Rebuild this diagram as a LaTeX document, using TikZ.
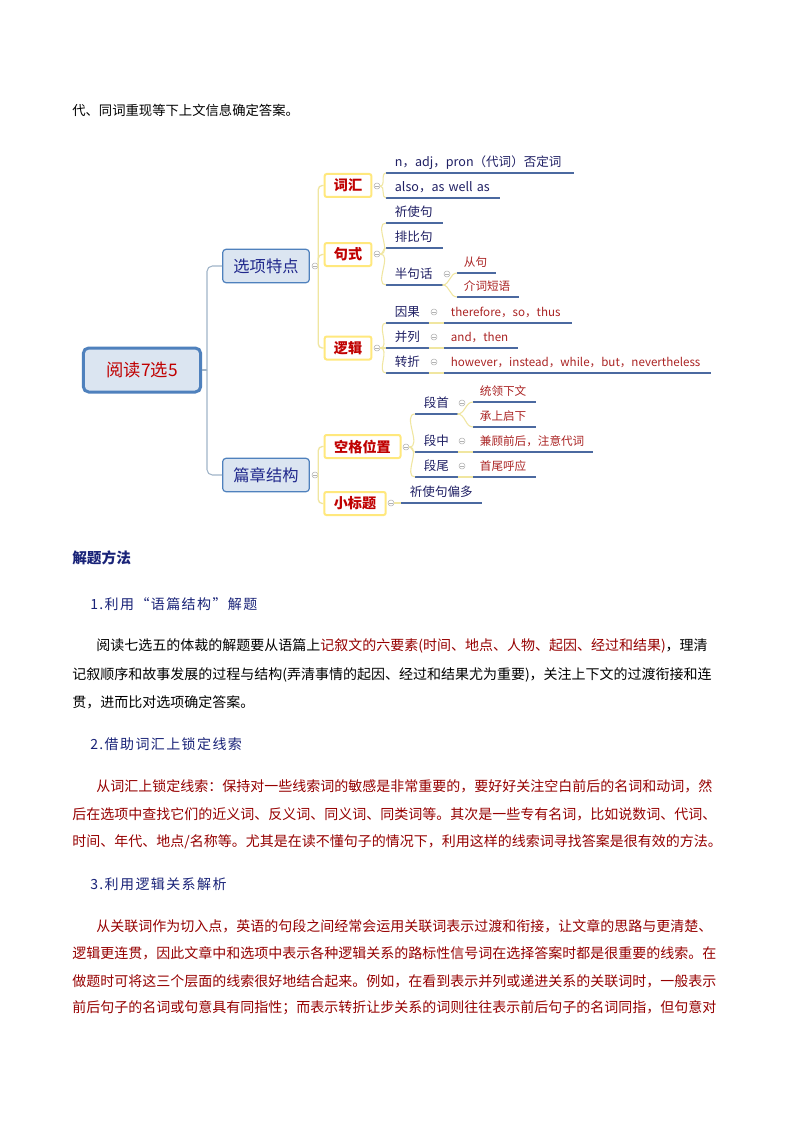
\documentclass[tikz,border=0pt]{standalone}
\usepackage{fontspec}
\setmainfont{Noto Sans CJK SC}
\usetikzlibrary{calc}
\definecolor{rootfill}{RGB}{219,229,241}
\definecolor{rootline}{RGB}{79,129,189}
\definecolor{rootred}{RGB}{192,0,0}
\definecolor{lonetext}{RGB}{32,40,140}
\definecolor{ltwoline}{RGB}{255,232,125}
\definecolor{ltwored}{RGB}{192,0,0}
\definecolor{leafblue}{RGB}{32,32,100}
\definecolor{leafred}{RGB}{170,35,35}
\definecolor{ulcol}{RGB}{75,105,160}
\definecolor{cgrey}{RGB}{160,180,200}
\definecolor{cyellow}{RGB}{240,230,160}
\definecolor{headblue}{RGB}{25,35,120}
\definecolor{bodyred}{RGB}{150,0,0}
\tikzset{
  rootbox/.style={draw=rootline, line width=2.25pt, fill=rootfill, rounded corners=4pt,
    minimum width=88pt, minimum height=33pt, inner sep=0pt, text=rootred,
    font=\fontsize{13}{15}\selectfont},
  lonebox/.style={draw=rootline, line width=0.9pt, fill=rootfill, rounded corners=2.5pt,
    minimum width=65pt, minimum height=25pt, inner sep=0pt, text=lonetext,
    font=\fontsize{12.2}{14}\selectfont},
  ltwobox/.style={draw=ltwoline, line width=1.5pt, fill=white, rounded corners=1.5pt,
    minimum width=#1, minimum height=17.25pt, inner sep=0pt, text=ltwored,
    font=\bfseries\fontsize{10.6}{12}\selectfont},
  coll/.style={circle, draw=gray!60, fill=white, line width=0.4pt, inner sep=0pt,
    minimum size=4.5pt,
    path picture={\draw[gray!60, line width=0.4pt]
      ($(path picture bounding box.west)+(1.1pt,0)$) --
      ($(path picture bounding box.east)+(-1.1pt,0)$);}},
  leafb/.style={anchor=south west, inner xsep=0pt, inner ysep=5pt, text depth=0pt,
    text width=#1, align=left, text=leafblue, font=\fontsize{9.4}{11}\selectfont,
    execute at begin node=\hspace*{6.5pt}},
  leafr/.style={anchor=south west, inner xsep=0pt, inner ysep=5pt, text depth=0pt,
    text width=#1, align=left, text=leafred, font=\fontsize{8.7}{10}\selectfont,
    execute at begin node=\hspace*{5pt}},
  ul/.style={draw=ulcol, line width=1.5pt},
  czero/.style={draw=cgrey, line width=0.8pt, rounded corners=4pt},
  cone/.style={draw=cyellow, line width=1pt, rounded corners=3pt},
  ctwo/.style={draw=cyellow, line width=0.8pt},
  head/.style={anchor=west, inner sep=0pt, text=headblue,
    font=\fontsize{10.5}{13}\selectfont\addfontfeature{LetterSpace=10}},
  bodyl/.style={anchor=west, inner sep=0pt, text width=487.5pt, align=justify,
    font=\fontsize{10.5}{13}\selectfont,
    execute at begin node={\XeTeXlinebreaklocale "zh"\XeTeXlinebreakskip=0pt plus 2pt minus 0.2pt\relax}},
}
\newcommand\fullline{\parfillskip=0pt\relax}
\begin{document}
\begin{tikzpicture}[x=0.75pt, y=-0.75pt]
\useasboundingbox (0,0) rectangle (794,1123);
\fill[white] (0,0) rectangle (794,1123);

\node[anchor=west, inner sep=0pt, font=\fontsize{10}{12}\selectfont] (top) at (72,110) {代、同词重现等下上文信息确定答案。};

% ---------- mind map ----------
\node[rootbox] (r) at (142,370) {阅读7选5};
\node[lonebox] (a) at (266,266) {选项特点};
\node[lonebox] (b) at (266,475) {篇章结构};
\coordinate (rj) at (207,370);
\draw[czero] (r.east) -- (rj);
\draw[czero] (rj) |- (a.west);
\draw[czero] (rj) |- (b.west);

\node[ltwobox=35pt] (w1) at (348,185.5) {词汇};
\node[ltwobox=35pt] (w2) at (348,254.5) {句式};
\node[ltwobox=35pt] (w3) at (348,348) {逻辑};
\node[ltwobox=57pt] (w4) at (362.5,446.5) {空格位置};
\node[ltwobox=46pt] (w5) at (355,503.5) {小标题};

\node[coll] (ca) at (315,266) {};
\node[coll] (cb) at (315,475) {};
\draw[cone] (ca.east) |- (w1.west);
\draw[cone] (ca.east) |- (w2.west);
\draw[cone] (ca.east) |- (w3.west);
\draw[cone] (cb.east) |- (w4.west);
\draw[cone] (cb.east) |- (w5.west);

% leaves
\node[leafb=140.25pt] (v1) at (386,173) {\mbox{n，adj，pron（代词）否定词}};
\node[leafb=84.75pt] (v2) at (386,198) {\mbox{also，as well as}};
\node[leafb=42pt] (s1) at (386,223) {祈使句};
\node[leafb=42pt] (s2) at (386,248) {排比句};
\node[leafb=42pt] (s3) at (386,285) {半句话};
\node[leafr=28.5pt] (s3a) at (457,273) {从句};
\node[leafr=45.75pt] (s3b) at (457,297) {介词短语};
\node[leafb=31.5pt] (l1) at (386,323) {因果};
\node[leafb=31.5pt] (l2) at (386,348) {并列};
\node[leafb=31.5pt] (l3) at (386,373) {转折};
\node[leafr=95.25pt] (l1a) at (444,323) {\mbox{therefore，so，thus}};
\node[leafr=54.75pt] (l2a) at (444,348) {\mbox{and，then}};
\node[leafr=199.5pt] (l3a) at (444,373) {\mbox{however，instead，while，but，nevertheless}};
\node[leafb=31.5pt] (p1) at (415,414) {段首};
\node[leafb=31.5pt] (p2) at (415,452) {段中};
\node[leafb=31.5pt] (p3) at (415,477) {段尾};
\node[leafr=46.5pt] (p1a) at (473,402) {统领下文};
\node[leafr=46.5pt] (p1b) at (473,427) {承上启下};
\node[leafr=89.25pt] (p2a) at (473,452) {\mbox{兼顾前后，注意代词}};
\node[leafr=46.5pt] (p3a) at (473,477) {首尾呼应};
\node[leafb=60pt] (t1) at (401,503) {祈使句偏多};

\foreach \n in {v1,v2,s1,s2,s3,s3a,s3b,l1,l2,l3,l1a,l2a,l3a,p1,p2,p3,p1a,p1b,p2a,p3a,t1}
  \draw[ul] (\n.south west) -- (\n.south east);

\node[coll] (cw1) at (377,186) {};
\node[coll] (cw2) at (377,254) {};
\node[coll] (cw3) at (377,348) {};
\node[coll] (cw4) at (406,447) {};
\node[coll] (cw5) at (391,503) {};
\node[coll] (cs3) at (447,274) {};
\node[coll] (cl1) at (434,312) {};
\node[coll] (cl2) at (434,337) {};
\node[coll] (cl3) at (434,362) {};
\node[coll] (cp1) at (462,403) {};
\node[coll] (cp2) at (462,441) {};
\node[coll] (cp3) at (462,466) {};

\draw[ctwo] (cw1.east) to[out=0,in=180] (v1.south west);
\draw[ctwo] (cw1.east) to[out=0,in=180] (v2.south west);
\draw[ctwo] (cw2.east) to[out=0,in=180] (s1.south west);
\draw[ctwo] (cw2.east) to[out=0,in=180] (s2.south west);
\draw[ctwo] (cw2.east) to[out=0,in=180] (s3.south west);
\draw[ctwo] (cw3.east) to[out=0,in=180] (l1.south west);
\draw[ctwo] (cw3.east) to[out=0,in=180] (l2.south west);
\draw[ctwo] (cw3.east) to[out=0,in=180] (l3.south west);
\draw[ctwo] (cw4.east) to[out=0,in=180] (p1.south west);
\draw[ctwo] (cw4.east) to[out=0,in=180] (p2.south west);
\draw[ctwo] (cw4.east) to[out=0,in=180] (p3.south west);
\draw[ctwo] (cw5.east) -- (t1.south west);
\draw[ctwo] (s3.south east) to[out=0,in=180] (s3a.south west);
\draw[ctwo] (s3.south east) to[out=0,in=180] (s3b.south west);
\draw[ctwo] (l1.south east) -- (l1a.south west);
\draw[ctwo] (l2.south east) -- (l2a.south west);
\draw[ctwo] (l3.south east) -- (l3a.south west);
\draw[ctwo] (p1.south east) to[out=0,in=180] (p1a.south west);
\draw[ctwo] (p1.south east) to[out=0,in=180] (p1b.south west);
\draw[ctwo] (p2.south east) -- (p2a.south west);
\draw[ctwo] (p3.south east) -- (p3a.south west);

% ---------- text below ----------
\node[head, font=\bfseries\fontsize{11}{13}\selectfont] (h0) at (72,558) {解题方法};
\node[head] (h1) at (90,604) {1.利用“语篇结构”解题};
\node[bodyl] (b11) at (72,646) {\fullline\hspace*{18pt}阅读七选五的体裁的解题要从语篇上\textcolor{bodyred}{记叙文的六要素(时间、地点、人物、起因、经过和结果)}，理清};
\node[bodyl] (b12) at (72,675) {\fullline 记叙顺序和故事发展的过程与结构(弄清事情的起因、经过和结果尤为重要)，关注上下文的过渡衔接和连};
\node[bodyl] (b13) at (72,702) {贯，进而比对选项确定答案。};

\node[head] (h2) at (90,744) {2.借助词汇上锁定线索};
\node[bodyl, text=bodyred] (b21) at (72,786) {\fullline\hspace*{18pt}从词汇上锁定线索：保持对一些线索词的敏感是非常重要的，要好好关注空白前后的名词和动词，然};
\node[bodyl, text=bodyred] (b22) at (72,814) {\fullline 后在选项中查找它们的近义词、反义词、同义词、同类词等。其次是一些专有名词，比如说数词、代词、};
\node[bodyl, text=bodyred] (b23) at (72,842) {\fullline 时间、年代、地点/名称等。尤其是在读不懂句子的情况下，利用这样的线索词寻找答案是很有效的方法。};

\node[head] (h3) at (90,884) {3.利用逻辑关系解析};
\node[bodyl, text=bodyred] (b31) at (72,926) {\fullline\hspace*{18pt}从关联词作为切入点，英语的句段之间经常会运用关联词表示过渡和衔接，让文章的思路与更清楚、};
\node[bodyl, text=bodyred] (b32) at (72,953) {\fullline 逻辑更连贯，因此文章中和选项中表示各种逻辑关系的路标性信号词在选择答案时都是很重要的线索。在};
\node[bodyl, text=bodyred] (b33) at (72,981) {\fullline 做题时可将这三个层面的线索很好地结合起来。例如，在看到表示并列或递进关系的关联词时，一般表示};
\node[bodyl, text=bodyred] (b34) at (72,1008) {\fullline 前后句子的名词或句意具有同指性；而表示转折让步关系的词则往往表示前后句子的名词同指，但句意对};
\end{tikzpicture}
\end{document}
